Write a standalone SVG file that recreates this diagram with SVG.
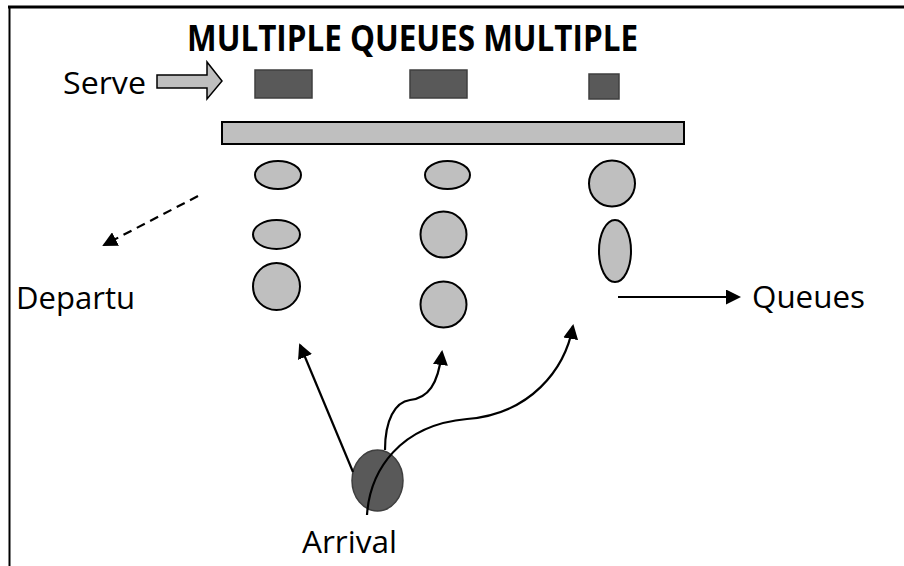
<svg xmlns="http://www.w3.org/2000/svg" width="904" height="566" viewBox="0 0 904 566">
<style>
.lbl{font-family:"Open Sans","Liberation Sans",sans-serif;font-size:31px;fill:#000}
.title{font-family:"Open Sans","Liberation Sans",sans-serif;font-size:35px;font-weight:bold;fill:#000}
.srv{fill:#595959;stroke:#3f3f3f;stroke-width:1.5}
.cust{fill:#bfbfbf;stroke:#000;stroke-width:2}
.conn{fill:none;stroke:#000;stroke-width:2.2}
</style>
<defs>
<marker id="ah2" markerWidth="15" markerHeight="15" refX="13" refY="7.5" orient="auto" markerUnits="userSpaceOnUse" viewBox="0 0 15 15">
<path d="M0,0 L15,7.5 L0,15 Z" fill="#000"/>
</marker>
</defs>
<g id="frame">
<line x1="8" y1="7" x2="904" y2="7" stroke="#000" stroke-width="3"/>
<line x1="9.5" y1="6" x2="9.5" y2="566" stroke="#000" stroke-width="2"/>
</g>
<g id="title"><text class="title" x="187" y="51" textLength="451" lengthAdjust="spacingAndGlyphs">MULTIPLE QUEUES MULTIPLE</text></g>
<g id="serve-label"><text class="lbl" x="63" y="94" textLength="83" lengthAdjust="spacingAndGlyphs">Serve</text></g>
<g id="serve-arrow"><path d="M157,75 L207,75 L207,62 L222,81 L207,99 L207,88 L157,88 Z" fill="#bfbfbf" stroke="#000" stroke-width="1.5"/></g>
<g id="server1"><rect class="srv" x="255" y="70" width="57" height="28"/></g>
<g id="server2"><rect class="srv" x="410" y="70" width="57" height="28"/></g>
<g id="server3"><rect class="srv" x="589" y="74" width="30" height="25"/></g>
<g id="bar"><rect x="222" y="122" width="462" height="22" fill="#bfbfbf" stroke="#000" stroke-width="2"/></g>
<g id="q1">
<ellipse class="cust" cx="278" cy="175" rx="23" ry="14"/>
<ellipse class="cust" cx="276.5" cy="234.5" rx="23.5" ry="14.5"/>
<ellipse class="cust" cx="276.5" cy="286.5" rx="23.5" ry="23.5"/>
</g>
<g id="q2">
<ellipse class="cust" cx="447.5" cy="175" rx="22.5" ry="14"/>
<circle class="cust" cx="443.5" cy="234.5" r="23"/>
<circle class="cust" cx="443.5" cy="304.5" r="23"/>
</g>
<g id="q3">
<circle class="cust" cx="612" cy="183.5" r="23"/>
<ellipse class="cust" cx="615" cy="251" rx="16" ry="31"/>
</g>
<g id="arrival"><ellipse cx="377.5" cy="480.5" rx="25.5" ry="30.5" fill="#595959" stroke="#3f3f3f" stroke-width="1.5"/></g>
<g id="labels">
<text class="lbl" x="16" y="309" textLength="119" lengthAdjust="spacingAndGlyphs">Departu</text>
<text class="lbl" x="752" y="308" textLength="113" lengthAdjust="spacingAndGlyphs">Queues</text>
<text class="lbl" x="302" y="553" textLength="95" lengthAdjust="spacingAndGlyphs">Arrival</text>
</g>
<g id="connectors">
<line class="conn" x1="198" y1="196" x2="104" y2="245" stroke-dasharray="9,6" marker-end="url(#ah2)"/>
<line class="conn" x1="618" y1="297" x2="739" y2="297" marker-end="url(#ah2)"/>
<line class="conn" x1="353" y1="472" x2="300" y2="345" marker-end="url(#ah2)"/>
<path class="conn" d="M385,450 C385,420 395,402 410,400 C428,398 438,385 442,352" marker-end="url(#ah2)"/>
<path class="conn" d="M367,515 C370,470 400,425 467,419 C530,414 565,370 573,326" marker-end="url(#ah2)"/>
</g>
</svg>
